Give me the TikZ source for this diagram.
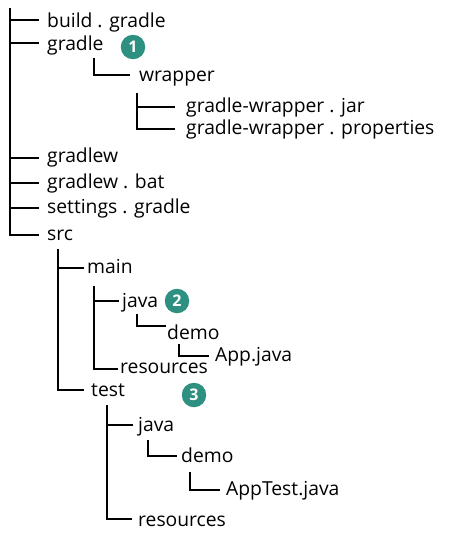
\documentclass[tikz,border=0pt]{standalone}
\usepackage{fontspec}
\setmainfont{Open Sans}
\definecolor{badgeteal}{HTML}{2E9080}
\tikzset{
    item/.style={anchor=base west, inner sep=0pt, font=\fontsize{19.3}{19.3}\selectfont, text=black},
    branch/.style={line width=2.6pt, black},
    badge/.style={circle, fill=badgeteal, text=white, inner sep=0pt, minimum size=24.5pt, font=\fontsize{16}{16}\selectfont\bfseries}
}
\begin{document}
\begin{tikzpicture}[x=1pt,y=-1pt]
    \useasboundingbox (0,0) rectangle (450,544);

    % Top level
    \node[item] (build) at (47,27) {build . gradle};
    \node[item] (gradle) at (47,50) {gradle};
    \node[item] (gradlew) at (47,162) {gradlew};
    \node[item] (gradlewbat) at (47,188) {gradlew . bat};
    \node[item] (settings) at (47,213) {settings . gradle};
    \node[item] (src) at (47,240) {src};

    % Wrapper
    \node[item] (wrapper) at (139,81) {wrapper};
    \node[item] (jar) at (186,112) {gradle-wrapper . jar};
    \node[item] (props) at (186,134) {gradle-wrapper . properties};

    % Main
    \node[item] (main) at (87,273) {main};
    \node[item] (mainjava) at (122,307) {java};
    \node[item] (maindemo) at (167,339) {demo};
    \node[item] (app) at (215,361) {App.java};
    \node[item] (mainres) at (120,373) {resources};

    % Test
    \node[item] (test) at (91,396) {test};
    \node[item] (testjava) at (138,431) {java};
    \node[item] (testdemo) at (181,462) {demo};
    \node[item] (apptest) at (226,495) {AppTest.java};
    \node[item] (testres) at (138,526) {resources};

    % Numbered marks
    \node[badge] (one) at (133,47) {1};
    \node[badge] (two) at (177,301) {2};
    \node[badge] (three) at (194,395) {3};

    % Tops of the vertical lines
    \coordinate (rootTop) at (10,8);
    \coordinate (gradleTop) at (94,58);
    \coordinate (wrapperTop) at (137,93);
    \coordinate (srcTop) at (58,249);
    \coordinate (mainTop) at (94,286);
    \coordinate (mainjavaTop) at (137,314);
    \coordinate (maindemoTop) at (179,344);
    \coordinate (testTop) at (107,405);
    \coordinate (testjavaTop) at (148,440);
    \coordinate (testdemoTop) at (190,472);

    % Connectors: top / label / gap before text / rise above baseline
    \foreach \a/\b/\g/\r in {rootTop/build/8/7, rootTop/gradle/8/7, rootTop/gradlew/8/4,
        rootTop/gradlewbat/8/5, rootTop/settings/8/5, rootTop/src/8/5,
        gradleTop/wrapper/9/6, wrapperTop/jar/11/5, wrapperTop/props/11/5,
        srcTop/main/3/5, srcTop/test/7/6, mainTop/mainjava/3/6, mainTop/mainres/2/4,
        mainjavaTop/maindemo/1/13, maindemoTop/app/6/5,
        testTop/testjava/5/6, testTop/testres/6/7,
        testjavaTop/testdemo/4/6, testdemoTop/apptest/6/5} {
        \draw[branch] (\a) |- ([shift={(-\g,-\r)}]\b.base west);
    }
\end{tikzpicture}
\end{document}
